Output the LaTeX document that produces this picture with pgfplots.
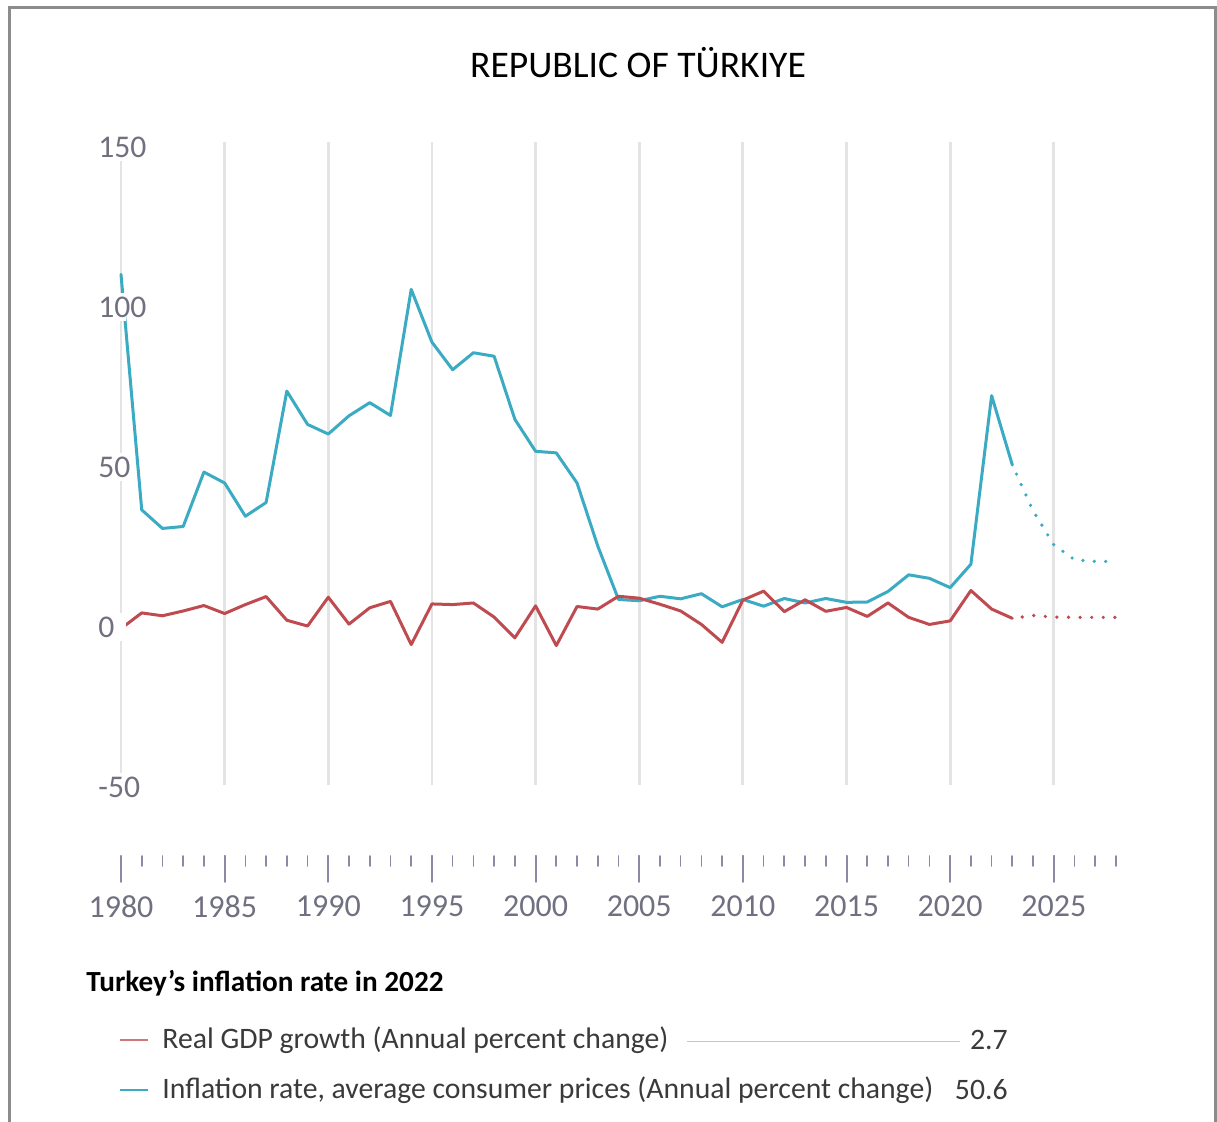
\documentclass[border=0pt]{standalone}
\usepackage{fontspec}
\setmainfont{Carlito}
\usepackage{pgfplots}
\usepackage{pgfplotstable}
\pgfplotsset{compat=1.18}

\definecolor{infl}{HTML}{3AABC2}
\definecolor{gdp}{HTML}{BF4B50}
\definecolor{gridc}{HTML}{E4E4E4}
\definecolor{tickc}{HTML}{8A8AA6}
\definecolor{labc}{HTML}{707080}
\definecolor{framec}{HTML}{8C8C8C}
\definecolor{legc}{HTML}{3A3A3A}

\pgfplotstableread{
year val
1980 110.2
1981 36.6
1982 30.8
1983 31.4
1984 48.4
1985 45.0
1986 34.6
1987 38.9
1988 73.7
1989 63.3
1990 60.3
1991 66.0
1992 70.1
1993 66.1
1994 105.5
1995 89.0
1996 80.4
1997 85.7
1998 84.6
1999 64.9
2000 54.9
2001 54.4
2002 45.0
2003 25.3
2004 8.6
2005 8.2
2006 9.6
2007 8.8
2008 10.4
2009 6.3
2010 8.6
2011 6.5
2012 8.9
2013 7.5
2014 8.9
2015 7.7
2016 7.8
2017 11.1
2018 16.3
2019 15.2
2020 12.3
2021 19.6
2022 72.3
2023 50.6
}\inflhist

\pgfplotstableread{
year val
2023 50.6
2024 36.3
2025 25.7
2026 21.0
2027 20.5
2028 20.5
}\inflproj

\pgfplotstableread{
year val
1980 -0.5
1981 4.4
1982 3.5
1983 5.0
1984 6.7
1985 4.2
1986 7.0
1987 9.5
1988 2.1
1989 0.3
1990 9.3
1991 0.9
1992 6.0
1993 8.0
1994 -5.5
1995 7.2
1996 7.0
1997 7.5
1998 3.1
1999 -3.4
2000 6.6
2001 -5.8
2002 6.4
2003 5.6
2004 9.6
2005 9.0
2006 7.1
2007 5.0
2008 0.8
2009 -4.8
2010 8.4
2011 11.2
2012 4.8
2013 8.5
2014 4.9
2015 6.1
2016 3.3
2017 7.5
2018 3.0
2019 0.8
2020 1.9
2021 11.4
2022 5.6
2023 2.7
}\gdphist

\pgfplotstableread{
year val
2023 2.7
2024 3.6
2025 3.1
2026 3.0
2027 3.0
2028 3.0
}\gdpproj

\begin{document}
\begin{tikzpicture}[x=0.5pt,y=0.5pt]
\useasboundingbox (0,0) rectangle (1217,1122);
\draw[framec, line width=1.5pt] (9,0) -- (9,1114) -- (1215,1114) -- (1215,0);

\node[inner sep=0pt, font=\fontsize{18.8}{22}\selectfont] at (638,1059) {REPUBLIC OF TÜRKIYE};

\begin{axis}[
  at={(60.5pt,133pt)}, anchor=south west,
  scale only axis, width=497.5pt, height=357pt,
  xmin=1980, xmax=2028, ymin=-71.5625, ymax=151.5625,
  clip=false,
  axis x line*=bottom,
  hide y axis,
  axis line style={draw=none},
  xtick={1980,1985,...,2025},
  xticklabels={1980,1985,1990,1995,2000,2005,2010,2015,2020,2025},
  minor xtick={1981,...,2028},
  tick align=outside,
  major tick length=13pt, minor tick length=5pt,
  major tick style={draw=tickc, line width=1pt},
  minor tick style={draw=tickc, line width=0.8pt},
  xticklabel style={font=\fontsize{16}{18}\selectfont, text=labc, yshift=-3.5pt},
  line join=round, line cap=round,
]
\pgfplotsinvokeforeach{1980,1985,1990,1995,2000,2005,2010,2015,2020,2025}{
  \draw[gridc, line width=1.4pt, line cap=butt] (axis cs:#1,-49.5) -- (axis cs:#1,151.5625);
}
\addplot[infl, line width=1.5pt, mark=none] table[x=year,y=val] {\inflhist};
\addplot[infl, line width=1.8pt, mark=none, line cap=round, dash pattern=on 0pt off 5.7pt, dash phase=-5pt] table[x=year,y=val] {\inflproj};
\addplot[gdp, line width=1.5pt, mark=none] table[x=year,y=val] {\gdphist};
\addplot[gdp, line width=1.8pt, mark=none, line cap=round, dash pattern=on 0pt off 5.8pt, dash phase=-5pt] table[x=year,y=val] {\gdpproj};

\pgfplotsinvokeforeach{150,100,50,0,-50}{
  \node[anchor=west, fill=white, inner xsep=0pt, inner ysep=2pt, text width=14pt, align=left,
        text=labc, font=\fontsize{15.8}{18}\selectfont] at (axis cs:1978.89,#1) {\mbox{#1}};
}
\end{axis}

\node[anchor=west, inner sep=0pt, font=\bfseries\fontsize{14.6}{17}\selectfont] at (86,139) {Turkey’s inflation rate in 2022};

\draw[gdp!75, line width=1.4pt] (120,82) -- (148,82);
\node[anchor=west, inner sep=0pt, text=legc, font=\fontsize{14.85}{18}\selectfont] at (162,82) {Real GDP growth (Annual percent change)};
\draw[gray!45, line width=0.5pt] (687,80) -- (960,80);
\node[anchor=east, inner sep=0pt, text=legc, font=\fontsize{14.85}{18}\selectfont] at (1008,82) {2.7};

\draw[infl, line width=1.4pt] (120,32) -- (148,32);
\node[anchor=west, inner sep=0pt, text=legc, font=\fontsize{14.85}{18}\selectfont] at (162,32) {Inflation rate, average consumer prices (Annual percent change)};
\node[anchor=east, inner sep=0pt, text=legc, font=\fontsize{14.85}{18}\selectfont] at (1008,32) {50.6};
\end{tikzpicture}
\end{document}
